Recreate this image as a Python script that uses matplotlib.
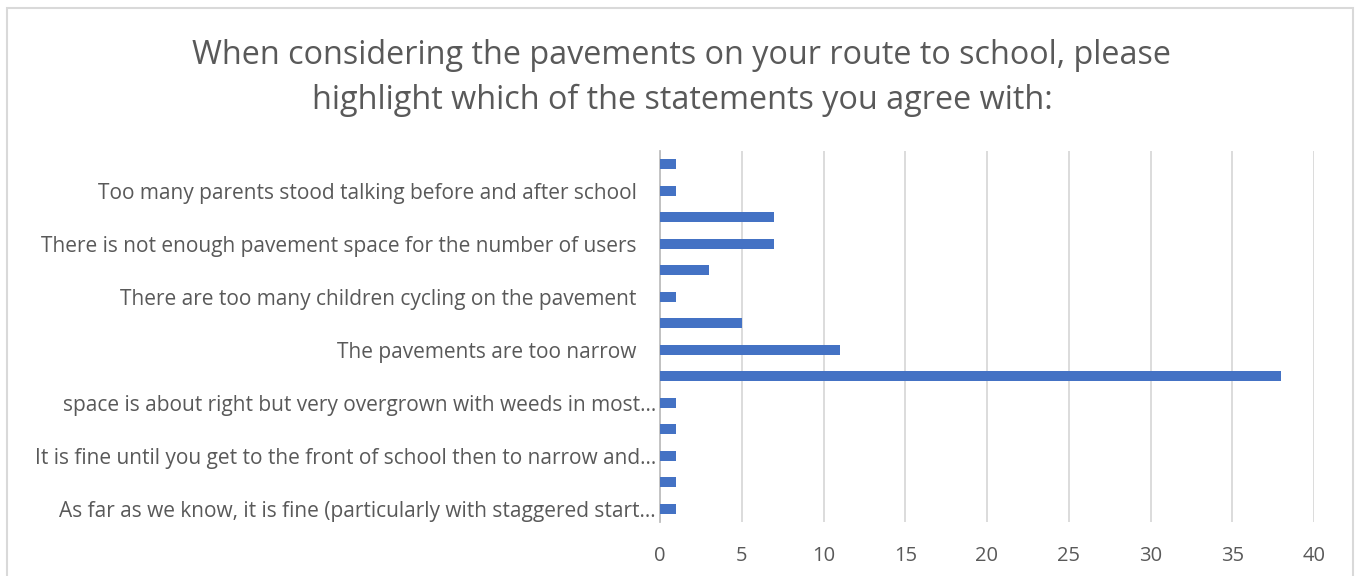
import matplotlib.pyplot as plt
from matplotlib.patches import Rectangle
import numpy as np

# categories bottom -> top, Excel only shows every other label
categories = [
    "As far as we know, it is fine (particularly with staggered start\u2026",
    "",
    "It is fine until you get to the front of school then to narrow and\u2026",
    "",
    "space is about right but very overgrown with weeds in most\u2026",
    "",
    "The pavements are too narrow",
    "",
    "There are too many children cycling on the pavement",
    "",
    "There is not enough pavement space for the number of users",
    "",
    "Too many parents stood talking before and after school",
    "",
]
counts = [1, 1, 1, 1, 1, 38, 11, 5, 1, 3, 7, 7, 1, 1]
xticks = [0, 5, 10, 15, 20, 25, 30, 35, 40]

title = ("When considering the pavements on your route to school, please\n"
         "highlight which of the statements you agree with:")

grey_txt = "#595959"
plt.rcParams["font.family"] = ["Open Sans", "DejaVu Sans"]

fig = plt.figure(figsize=(13.57, 5.76), dpi=100)
# outer chart frame
fig.patches.append(Rectangle((7/1357, -0.05), (1353-7)/1357, 1.05 - 8/576,
                             transform=fig.transFigure, fill=False,
                             edgecolor="#d9d9d9", linewidth=1.5))

ax = fig.add_axes([660/1357, 1 - 522/576, (1314-660)/1357, (522-151)/576])
y = np.arange(len(counts))
ax.barh(y, counts, height=0.38, color="#4472C4", zorder=3)

ax.set_xlim(0, 40)
ax.set_ylim(-0.5, len(counts) - 0.5)
ax.set_xticks(xticks)
ax.set_yticks(y)
ax.set_yticklabels(categories)

ax.grid(axis="x", color="#d9d9d9", linewidth=1.3, zorder=0)
for s in ["top", "right", "bottom"]:
    ax.spines[s].set_visible(False)
ax.spines["left"].set_color("#bfbfbf")
ax.spines["left"].set_linewidth(1.3)

ax.tick_params(axis="y", length=0, labelsize=15, labelcolor=grey_txt)
ax.tick_params(axis="x", length=0, labelsize=14.5, labelcolor=grey_txt, pad=17)

# full labels sit further from the axis than the truncated ones
for t, lab in zip(ax.yaxis.get_major_ticks(), categories):
    t.set_pad(3 if lab.endswith("\u2026") else 17)

fig.text(682/1357, 1 - 78/576, title, ha="center", va="center",
         fontsize=23.3, color=grey_txt, linespacing=1.5)

fig.savefig("out.png", dpi=100)
